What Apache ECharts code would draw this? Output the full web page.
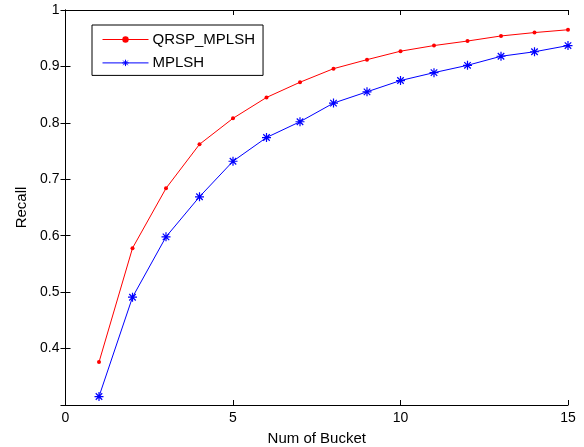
<!DOCTYPE html>
<html>
<head>
<meta charset="utf-8">
<script src="https://cdn.jsdelivr.net/npm/echarts@6/dist/echarts.min.js"></script>
<style>html,body{margin:0;padding:0;background:#fff;}#c{width:584px;height:447px;}</style>
</head>
<body>
<div id="c"></div>
<script>
const buckets = [1,2,3,4,5,6,7,8,9,10,11,12,13,14,15];
const qrspMplsh = [0.376,0.578,0.684,0.762,0.808,0.845,0.872,0.896,0.912,0.927,0.937,0.945,0.954,0.960,0.965];
const mplsh = [0.315,0.491,0.598,0.669,0.732,0.774,0.802,0.835,0.855,0.875,0.889,0.902,0.918,0.926,0.937];
const seriesNames = ['QRSP_MPLSH','MPLSH'];
const xLabel = 'Num of Bucket';
const yLabel = 'Recall';

const FONT = 'Liberation Sans, Arial, sans-serif';
const chart = echarts.init(document.getElementById('c'), null, {renderer:'canvas'});
const star = 'path://M0,-5L0,5M-5,0L5,0M-3.6,-3.6L3.6,3.6M-3.6,3.6L3.6,-3.6';
const axisCommon = {
  axisLine:{show:true,lineStyle:{color:'#000',width:1}},
  axisTick:{show:true,inside:true,length:5,lineStyle:{color:'#000'}},
  splitLine:{show:false}
};
chart.setOption({
  animation:false,
  backgroundColor:'#fff',
  grid:{left:65.5,right:16,top:10,bottom:42,containLabel:false,outerBoundsMode:'none'},
  legend:{
    orient:'vertical',left:92,top:25,
    data:seriesNames,
    itemWidth:46,itemHeight:8,itemGap:8.4,
    padding:[7,8,5,10],
    borderColor:'#000',borderWidth:1,backgroundColor:'#fff',borderRadius:0,
    lineStyle:{width:1},
    itemStyle:{borderWidth:1},
    textStyle:{fontFamily:FONT,fontSize:15,lineHeight:14,height:14,color:'#000',padding:[0,0,0,-1]}
  },
  xAxis:[
    Object.assign({type:'value',min:0,max:15,interval:5,position:'bottom',
      name:xLabel,nameLocation:'middle',nameGap:26,
      nameTextStyle:{fontFamily:FONT,fontSize:15,color:'#000'},
      axisLabel:{fontFamily:FONT,fontSize:14,color:'#000',margin:6}},axisCommon),
    Object.assign({type:'value',min:0,max:15,interval:5,position:'top',
      axisLabel:{show:false}},axisCommon)
  ],
  yAxis:[
    Object.assign({type:'value',min:0.3,max:1,interval:0.1,position:'left',
      name:yLabel,nameLocation:'middle',nameGap:34,
      nameTextStyle:{fontFamily:FONT,fontSize:15,color:'#000'},
      axisLabel:{fontFamily:FONT,fontSize:14,color:'#000',margin:6,
        formatter:function(v){ if(v<0.35) return ''; if(Math.abs(v-1)<1e-9) return '1'; return v.toFixed(1);} }},axisCommon),
    Object.assign({type:'value',min:0.3,max:1,interval:0.1,position:'right',
      axisLabel:{show:false}},axisCommon)
  ],
  series:[
    {name:seriesNames[0],type:'line',data:buckets.map((b,i)=>[b,qrspMplsh[i]]),
      symbol:'circle',symbolSize:4,showAllSymbol:true,
      lineStyle:{color:'#ff0000',width:1},itemStyle:{color:'#ff0000'}},
    {name:seriesNames[1],type:'line',data:buckets.map((b,i)=>[b,mplsh[i]]),
      symbol:star,symbolSize:9,showAllSymbol:true,
      lineStyle:{color:'#0000ff',width:1},itemStyle:{color:'#0000ff',borderColor:'#0000ff',borderWidth:1.2}}
  ]
});
</script>
</body>
</html>
